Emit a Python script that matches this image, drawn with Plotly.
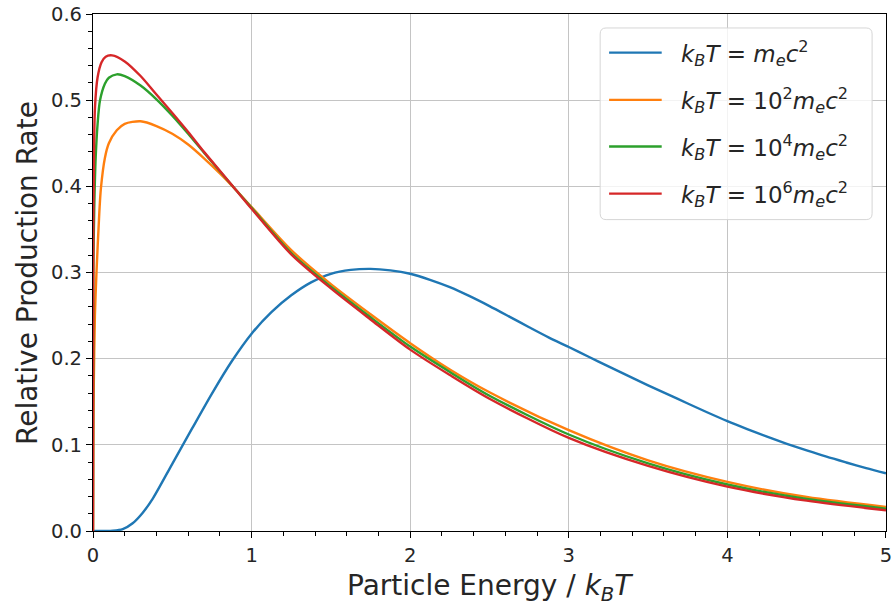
import plotly.graph_objects as go

# Particle energy (in units of k_B T) and relative production rate for each temperature
x_me = [0.0, 0.125, 0.1875, 0.25, 0.3125, 0.375, 0.5, 0.625, 0.75, 0.875, 1.0, 1.125, 1.25,
        1.375, 1.5, 1.625, 1.75, 1.875, 2.0, 2.125, 2.25, 2.375, 2.5, 2.625, 2.75, 2.875,
        3.0, 3.125, 3.25, 3.375, 3.5, 3.625, 3.75, 3.875, 4.0, 4.125, 4.25, 4.375, 4.5,
        4.625, 4.75, 4.875, 5.0]
y_me = [0.0, 0.0004, 0.0022, 0.009, 0.021, 0.037, 0.078, 0.119, 0.1595, 0.197, 0.229, 0.254,
        0.2735, 0.2885, 0.2985, 0.303, 0.3042, 0.3025, 0.2985, 0.2915, 0.283, 0.2725, 0.261,
        0.2488, 0.2365, 0.2245, 0.2135, 0.2022, 0.191, 0.180, 0.169, 0.1585, 0.148, 0.1375,
        0.1275, 0.1183, 0.1095, 0.1012, 0.0935, 0.0862, 0.0795, 0.073, 0.067]

x_e2 = [0.0, 0.002, 0.005, 0.012, 0.022, 0.04, 0.05, 0.075, 0.1, 0.15, 0.2, 0.3, 0.4, 0.5,
        0.6, 0.7, 0.8, 0.9, 1.0, 1.25, 1.5, 1.75, 2.0, 2.25, 2.5, 3.0, 3.5, 4.0, 4.5, 5.0]
y_e2 = [0.0, 0.10, 0.17, 0.25, 0.30, 0.37, 0.398, 0.433, 0.450, 0.465, 0.4725, 0.4755, 0.470,
        0.461, 0.4485, 0.4325, 0.415, 0.396, 0.376, 0.326, 0.2865, 0.2515, 0.218, 0.1875,
        0.161, 0.117, 0.082, 0.057, 0.0394, 0.028]

x_e4 = [0.0, 0.001, 0.002, 0.008, 0.017, 0.029, 0.044, 0.075, 0.1, 0.15, 0.2, 0.3, 0.4, 0.5,
        0.6, 0.7, 0.8, 0.9, 1.0, 1.25, 1.5, 1.75, 2.0, 2.25, 2.5, 3.0, 3.5, 4.0, 4.5, 5.0]
y_e4 = [0.0, 0.20, 0.30, 0.376, 0.434, 0.4725, 0.4995, 0.519, 0.526, 0.530, 0.528, 0.517,
        0.501, 0.482, 0.461, 0.439, 0.4175, 0.396, 0.375, 0.3225, 0.2835, 0.248, 0.214,
        0.1845, 0.157, 0.112, 0.0785, 0.054, 0.0372, 0.026]

x_e6 = [0.0, 0.0005, 0.002, 0.006, 0.0125, 0.029, 0.054, 0.08, 0.12, 0.2, 0.3, 0.4, 0.5,
        0.6, 0.7, 0.8, 0.9, 1.0, 1.25, 1.5, 1.75, 2.0, 2.25, 2.5, 3.0, 3.5, 4.0, 4.5, 5.0]
y_e6 = [0.0, 0.20, 0.34, 0.434, 0.4917, 0.5265, 0.544, 0.5505, 0.552, 0.545, 0.528, 0.5065,
        0.485, 0.463, 0.440, 0.418, 0.396, 0.374, 0.321, 0.2815, 0.2455, 0.2105, 0.181,
        0.1535, 0.108, 0.0755, 0.0515, 0.0352, 0.024]

labels = [
    "<i>k</i><sub><i>B</i></sub><i>T</i> = <i>m</i><sub><i>e</i></sub><i>c</i><sup>2</sup>",
    "<i>k</i><sub><i>B</i></sub><i>T</i> = 10<sup>2</sup><i>m</i><sub><i>e</i></sub><i>c</i><sup>2</sup>",
    "<i>k</i><sub><i>B</i></sub><i>T</i> = 10<sup>4</sup><i>m</i><sub><i>e</i></sub><i>c</i><sup>2</sup>",
    "<i>k</i><sub><i>B</i></sub><i>T</i> = 10<sup>6</sup><i>m</i><sub><i>e</i></sub><i>c</i><sup>2</sup>",
]
colors = ["#1f77b4", "#ff7f0e", "#2ca02c", "#d62728"]
series = [(x_me, y_me), (x_e2, y_e2), (x_e4, y_e4), (x_e6, y_e6)]

x_ticks = [0, 1, 2, 3, 4, 5]
y_ticks = [0.0, 0.1, 0.2, 0.3, 0.4, 0.5, 0.6]
y_tick_text = ["0.0", "0.1", "0.2", "0.3", "0.4", "0.5", "0.6"]

FONT = "DejaVu Sans"
TXT = "#262626"
W, H = 895, 608
L, R, T, B = 93, 3, 13, 77
PW, PH = W - L - R, H - T - B


def px_x(px):
    return (px - L) / PW


def px_y(py):
    return (H - B - py) / PH


fig = go.Figure()
for (xs, ys), name, col in zip(series, labels, colors):
    fig.add_trace(go.Scatter(
        x=xs, y=ys, mode="lines", name=name, showlegend=False,
        line=dict(color=col, width=2.4, shape="spline", smoothing=0.8),
    ))

axis_common = dict(
    showline=True, linecolor="black", linewidth=1.2, mirror=True,
    ticks="outside", ticklen=6, tickwidth=1.2, tickcolor="black",
    showgrid=True, gridcolor="#c4c4c4", gridwidth=1, zeroline=False,
    tickfont=dict(family=FONT, size=19.5, color=TXT),
    ticklabeloverflow="allow",
)

fig.update_xaxes(
    range=[0, 5.0001], tickmode="array", tickvals=x_ticks,
    minor=dict(ticks="outside", dtick=0.2, tick0=0, ticklen=3.5, tickcolor="black",
               tickwidth=1, showgrid=False),
    **axis_common,
)
fig.update_yaxes(
    range=[0, 0.6], tickmode="array", tickvals=y_ticks, ticktext=y_tick_text,
    minor=dict(ticks="outside", dtick=0.02, tick0=0, ticklen=3.5, tickcolor="black",
               tickwidth=1, showgrid=False),
    **axis_common,
)

annotations = [
    dict(xref="paper", yref="paper", x=0.5, y=px_y(588),
         text="Particle Energy / <i>k</i><sub><i>B</i></sub><i>T</i>", showarrow=False,
         xanchor="center", yanchor="middle", font=dict(family=FONT, size=28, color=TXT)),
    dict(xref="paper", yref="paper", x=px_x(27), y=0.5, text="Relative Production Rate",
         textangle=-90, showarrow=False, xanchor="center", yanchor="middle",
         font=dict(family=FONT, size=28, color=TXT)),
]

# Legend box drawn as a rounded frame with line samples and labels
bx0, bx1, by0, by1, rad = 604, 878, 27, 219, 6
x0, x1 = px_x(bx0), px_x(bx1)
y0, y1 = px_y(by1), px_y(by0)
rx, ry = rad / PW, rad / PH
path = (f"M {x0 + rx},{y0} L {x1 - rx},{y0} Q {x1},{y0} {x1},{y0 + ry} "
        f"L {x1},{y1 - ry} Q {x1},{y1} {x1 - rx},{y1} L {x0 + rx},{y1} "
        f"Q {x0},{y1} {x0},{y1 - ry} L {x0},{y0 + ry} Q {x0},{y0} {x0 + rx},{y0} Z")
shapes = [dict(type="path", xref="paper", yref="paper", path=path,
               fillcolor="rgba(255,255,255,0.8)", line=dict(color="#d6d6d6", width=1),
               layer="above")]
rows = [51.7, 99, 145.7, 193]
for name, col, ry_px in zip(labels, colors, rows):
    shapes.append(dict(type="line", xref="paper", yref="paper",
                       x0=px_x(613), x1=px_x(666), y0=px_y(ry_px), y1=px_y(ry_px),
                       line=dict(color=col, width=2.4), layer="above"))
    annotations.append(dict(xref="paper", yref="paper", x=px_x(683), y=px_y(ry_px + 1),
                            text=name, showarrow=False, xanchor="left", yanchor="middle",
                            font=dict(family=FONT, size=23, color=TXT)))

fig.update_layout(
    width=W, height=H,
    margin=dict(l=L, r=R, t=T, b=B, pad=0),
    paper_bgcolor="white", plot_bgcolor="white",
    shapes=shapes, annotations=annotations,
    font=dict(family=FONT),
)

fig.write_html("out.html")
